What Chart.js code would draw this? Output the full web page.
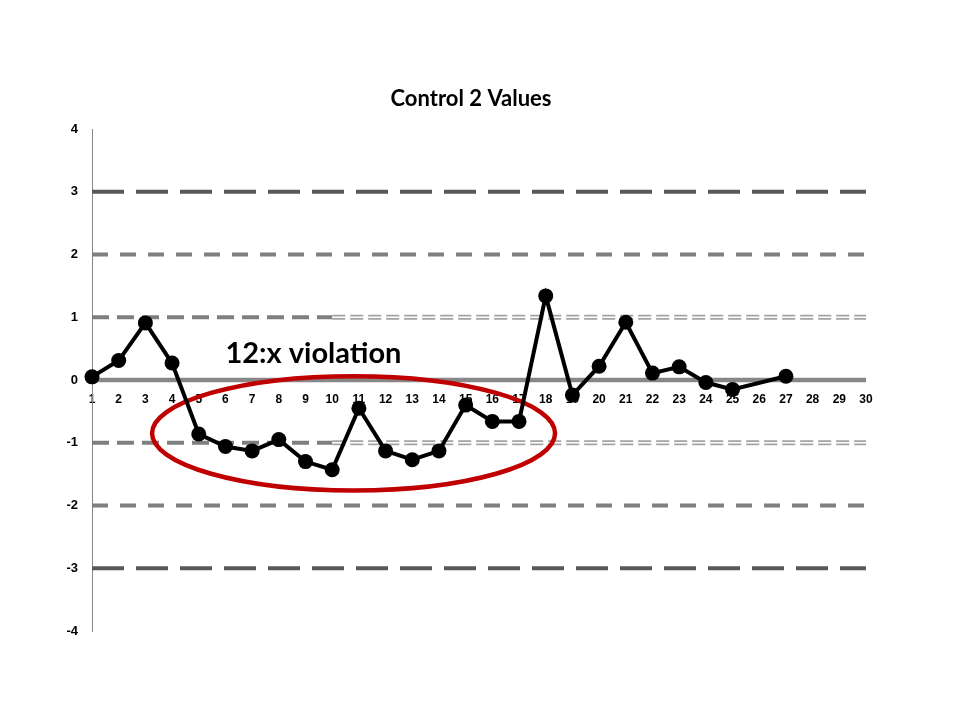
<!DOCTYPE html>
<html>
<head>
<meta charset="utf-8">
<title>Control 2 Values</title>
<script src="https://cdn.jsdelivr.net/npm/chart.js@4.4.0/dist/chart.umd.min.js"></script>
<style>
  body { margin: 0; background: #fff; }
  canvas { display: block; }
</style>
</head>
<body>
<canvas id="myChart" width="960" height="720"></canvas>
<script>
// run number and the control value for that run (run 26 has no value)
const runs = [1, 2, 3, 4, 5, 6, 7, 8, 9, 10, 11, 12, 13, 14, 15, 16, 17, 18, 19, 20, 21, 22, 23, 24, 25, 26, 27];
const values = [0.05, 0.31, 0.91, 0.27, -0.86, -1.06, -1.13, -0.95, -1.30, -1.43,
                -0.45, -1.13, -1.27, -1.13, -0.40, -0.66, -0.66, 1.34, -0.24, 0.22,
                0.92, 0.11, 0.21, -0.04, -0.15, null, 0.06];

// axis ranges
const xRange = [1, 30];
const yRange = [-4, 4];

// control limits (SD)
const limit3 = [3, -3];
const limit2 = [2, -2];
const limit1 = [1, -1];
const centre = 0;
const limit1Split = 10; // the 1SD line changes to a double line here

const ruleLabel = '12:x violation';

function hline(y, from, to, style) {
  return Object.assign({
    data: [{x: from, y: y}, {x: to, y: y}],
    pointRadius: 0,
    borderCapStyle: 'butt',
    fill: false
  }, style);
}

let datasets = [];

datasets.push({
  label: 'Control 2',
  data: runs.map(function(r, i) { return {x: r, y: values[i]}; }),
  borderColor: '#000',
  borderWidth: 4,
  pointRadius: 7.5,
  pointBackgroundColor: '#000',
  pointBorderWidth: 0,
  spanGaps: true,
  clip: false,
  order: 0
});

limit1.forEach(function(v) {
  // inner white stroke cuts the wide grey stroke into two thin lines
  datasets.push(hline(v, limit1Split, xRange[1], {borderColor: '#fff', borderWidth: 1.6, borderDash: [13, 5], order: 1}));
  datasets.push(hline(v, limit1Split, xRange[1], {borderColor: '#a3a3a3', borderWidth: 5, borderDash: [13, 5], order: 2}));
  datasets.push(hline(v, xRange[0], limit1Split, {borderColor: '#7f7f7f', borderWidth: 4, borderDash: [17, 8], order: 3}));
});
limit2.forEach(function(v) {
  datasets.push(hline(v, xRange[0], xRange[1], {borderColor: '#7f7f7f', borderWidth: 4, borderDash: [16, 12], order: 3}));
});
limit3.forEach(function(v) {
  datasets.push(hline(v, xRange[0], xRange[1], {borderColor: '#595959', borderWidth: 4, borderDash: [32, 12], order: 3}));
});
datasets.push(hline(centre, xRange[0], xRange[1], {borderColor: '#878787', borderWidth: 4.5, order: 3}));

// red ring and its label, drawn just before the data line
const ring = {
  id: 'ring',
  afterLayout(chart) {
    // nudge the title over the plot instead of over the whole box
    if (chart.titleBlock) {
      chart.titleBlock.left += 7;
      chart.titleBlock.right += 7;
    }
  },
  beforeDatasetDraw(chart, args) {
    if (args.index !== 0) return;
    const ctx = chart.ctx;
    const x = chart.scales.x, y = chart.scales.y;
    const cx = x.getPixelForValue(10.8), cy = y.getPixelForValue(-0.85);
    const rx = x.getPixelForValue(10.8 + 7.55) - cx;
    const ry = y.getPixelForValue(-0.85 - 0.91) - cy;
    ctx.save();
    ctx.beginPath();
    ctx.ellipse(cx, cy, rx, ry, 0, 0, 2 * Math.PI);
    ctx.lineWidth = 4.5;
    ctx.strokeStyle = '#c00000';
    ctx.stroke();
    ctx.font = 'bold 29px Lato';
    ctx.fillStyle = '#000';
    ctx.textAlign = 'left';
    ctx.textBaseline = 'alphabetic';
    ctx.fillText(ruleLabel, x.getPixelForValue(6), y.getPixelForValue(0.27));
    ctx.restore();
  }
};

let ctx = document.getElementById('myChart').getContext('2d');
let chart = new Chart(ctx, {
  type: 'line',
  data: { datasets: datasets },
  plugins: [ring],
  options: {
    responsive: false,
    animation: false,
    events: [],
    layout: { padding: { left: 62, right: 94, top: 0, bottom: 89 } },
    plugins: {
      legend: { display: false },
      tooltip: { enabled: false },
      title: {
        display: true,
        text: 'Control 2 Values',
        color: '#000',
        font: { family: 'Lato', size: 22, weight: 'bold' },
        lineHeight: 1.2,
        padding: { top: 86, bottom: 16.6 }
      }
    },
    scales: {
      x: {
        type: 'linear',
        position: { y: 0 },
        min: xRange[0],
        max: xRange[1],
        grid: { display: false },
        border: { display: false },
        ticks: {
          stepSize: 1,
          autoSkip: false,
          maxRotation: 0,
          padding: 4,
          color: '#000',
          font: { family: 'Liberation Sans', size: 12, weight: 'bold' }
        }
      },
      y: {
        min: yRange[0],
        max: yRange[1],
        grid: { display: false },
        border: { color: '#868686', width: 1 },
        afterFit: function(scale) { scale.width = 30; },
        ticks: {
          stepSize: 1,
          padding: 6,
          color: '#000',
          font: { family: 'Liberation Sans', size: 13, weight: 'bold' }
        }
      }
    }
  }
});
</script>
</body>
</html>
